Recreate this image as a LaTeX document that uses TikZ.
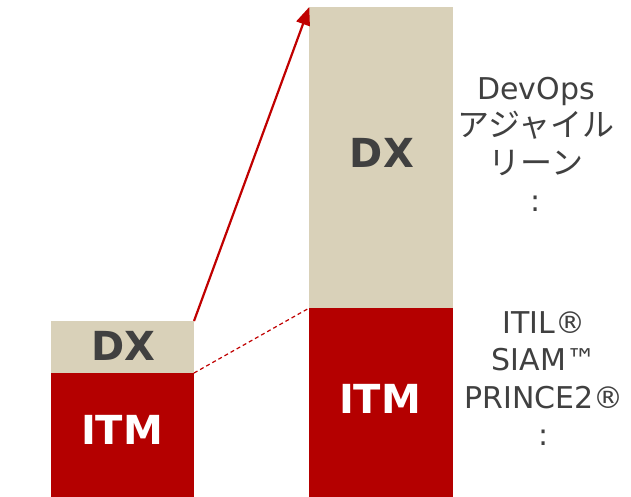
\documentclass[tikz,border=0pt]{standalone}
\usepackage{fontspec}
\setmainfont{DejaVu Sans}
\newfontfamily\jpfont{Noto Sans CJK JP}
\usetikzlibrary{arrows.meta}
\definecolor{itmred}{RGB}{180,0,0}
\definecolor{arrred}{RGB}{192,0,0}
\definecolor{dxbeige}{RGB}{217,209,185}
\definecolor{txtgray}{RGB}{64,64,64}
\newcommand{\jpline}[1]{{\jpfont\fontsize{32}{37.5}\selectfont #1}}
\tikzset{
  bar/.style={draw=none, inner sep=0pt, outer sep=0pt, minimum width=143.5pt},
  dxbar/.style={bar, fill=dxbeige},
  itmbar/.style={bar, fill=itmred},
  biglabel/.style={inner sep=0pt, font=\fontsize{40}{48}\selectfont\bfseries},
  sidetext/.style={inner sep=0pt, align=center, text=txtgray,
    font=\fontsize{30}{37.5}\selectfont},
  growth/.style={arrred, line width=2.2pt, -{Triangle[length=18pt, width=14pt]}},
  guide/.style={arrred, line width=1.2pt, dash pattern=on 4pt off 3pt},
}
\begin{document}
\begin{tikzpicture}[x=1pt, y=-1pt]
  \useasboundingbox (0,0) rectangle (631,496);
  % small bar
  \node[dxbar, minimum height=52pt] (ldx) at (122.25,347) {};
  \node[itmbar, minimum height=124pt] (litm) at (122.25,435) {};
  % tall bar
  \node[dxbar, minimum height=301pt] (rdx) at (381,157.5) {};
  \node[itmbar, minimum height=189pt] (ritm) at (381,402.5) {};
  % bar captions
  \node[biglabel, text=txtgray] (ldxt) at (123.5,346) {DX};
  \node[biglabel, text=white] (litmt) at (122,430) {ITM};
  \node[biglabel, text=txtgray] (rdxt) at (382,152.5) {DX};
  \node[biglabel, text=white] (ritmt) at (380,399) {ITM};
  % connectors
  \draw[growth] (ldx.north east) -- (rdx.north west);
  \draw[guide] (ldx.south east) -- (ritm.north west);
  % methods beside the bar
  \node[sidetext, anchor=north] (dxlist) at (536,77)
    {DevOps\\\jpline{アジャイル}\\\jpline{リーン}\\:};
  \node[sidetext, anchor=north] (itmlist) at (544,311)
    {ITIL®\\SIAM™\\PRINCE2®\\:};
\end{tikzpicture}
\end{document}
